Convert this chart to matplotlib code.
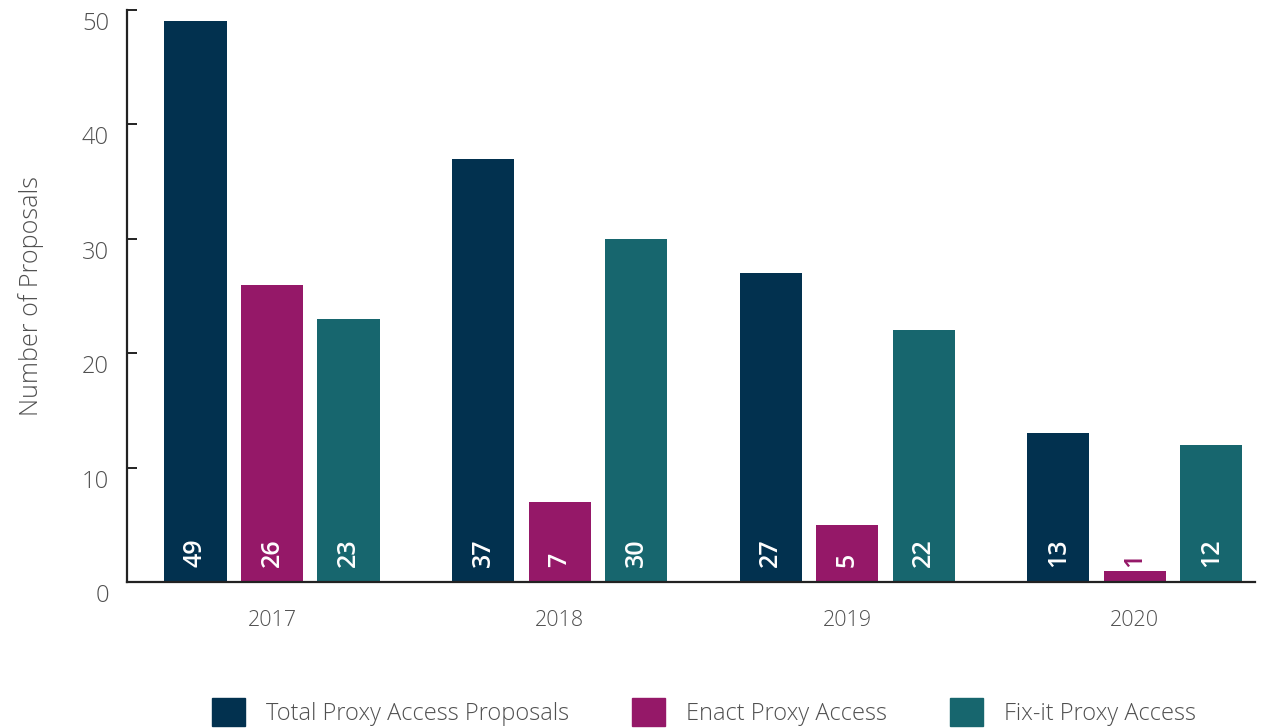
import matplotlib
matplotlib.use("Agg")
import matplotlib.pyplot as plt
import matplotlib.patches as mpatches
from matplotlib.transforms import ScaledTranslation
import numpy as np

years = ["2017", "2018", "2019", "2020"]
total = [49, 37, 27, 13]
enact = [26, 7, 5, 1]
fixit = [23, 30, 22, 12]
series_names = ["Total Proxy Access Proposals", "Enact Proxy Access", "Fix-it Proxy Access"]
colors = ["#02314f", "#951868", "#17666e"]

plt.rcParams["font.family"] = ["Open Sans", "DejaVu Sans"]
plt.rcParams["font.weight"] = "light"
text_color = "#505050"

fig = plt.figure(figsize=(12.64, 7.28), dpi=100)
ax = fig.add_axes([127 / 1264, 1 - 582 / 728, 1128 / 1264, 572 / 728])

x = np.arange(len(years))
width = 0.216
offset = 0.266

for i, (vals, col) in enumerate(zip([total, enact, fixit], colors)):
    pos = x + (i - 1) * offset
    ax.bar(pos, vals, width, color=col, zorder=2)
    for p, v in zip(pos, vals):
        # small bars: label sits above the bar in the bar colour
        tc = "white" if v > 3 else col
        ax.text(p, 1.3, str(v), rotation=90, ha="center", va="bottom",
                color=tc, fontsize=18, fontweight="semibold", zorder=3)

ax.set_xlim(-0.504, 3.418)
ax.set_ylim(0, 50)
ax.set_yticks([0, 10, 20, 30, 40, 50])
ax.set_xticks(x)
ax.set_xticklabels(years)

for s in ["top", "right"]:
    ax.spines[s].set_visible(False)
ax.spines["left"].set_color("#222222")
ax.spines["bottom"].set_color("#222222")
ax.spines["left"].set_linewidth(1.6)
ax.spines["bottom"].set_linewidth(1.6)

ax.tick_params(axis="y", direction="in", length=7, width=1.4, color="#222222",
               labelsize=17, labelcolor=text_color, pad=13)
ax.tick_params(axis="x", length=0, labelsize=15.5, labelcolor=text_color, pad=20)
for lab in ax.get_yticklabels():
    lab.set_transform(lab.get_transform() + ScaledTranslation(0, -0.11, fig.dpi_scale_trans))

ax.set_ylabel("Number of Proposals", fontsize=18, color=text_color,
              fontweight="light", labelpad=27)

handles = [mpatches.Patch(color=c, label=n) for c, n in zip(colors, series_names)]
leg = fig.legend(handles=handles, loc="center", bbox_to_anchor=(0.557, 1 - 712 / 728),
                 ncol=3, frameon=False, fontsize=17, handlelength=1.4, handleheight=1.4,
                 handletextpad=0.9, columnspacing=2.65)
for t in leg.get_texts():
    t.set_color(text_color)

fig.savefig("out.png", dpi=100)
